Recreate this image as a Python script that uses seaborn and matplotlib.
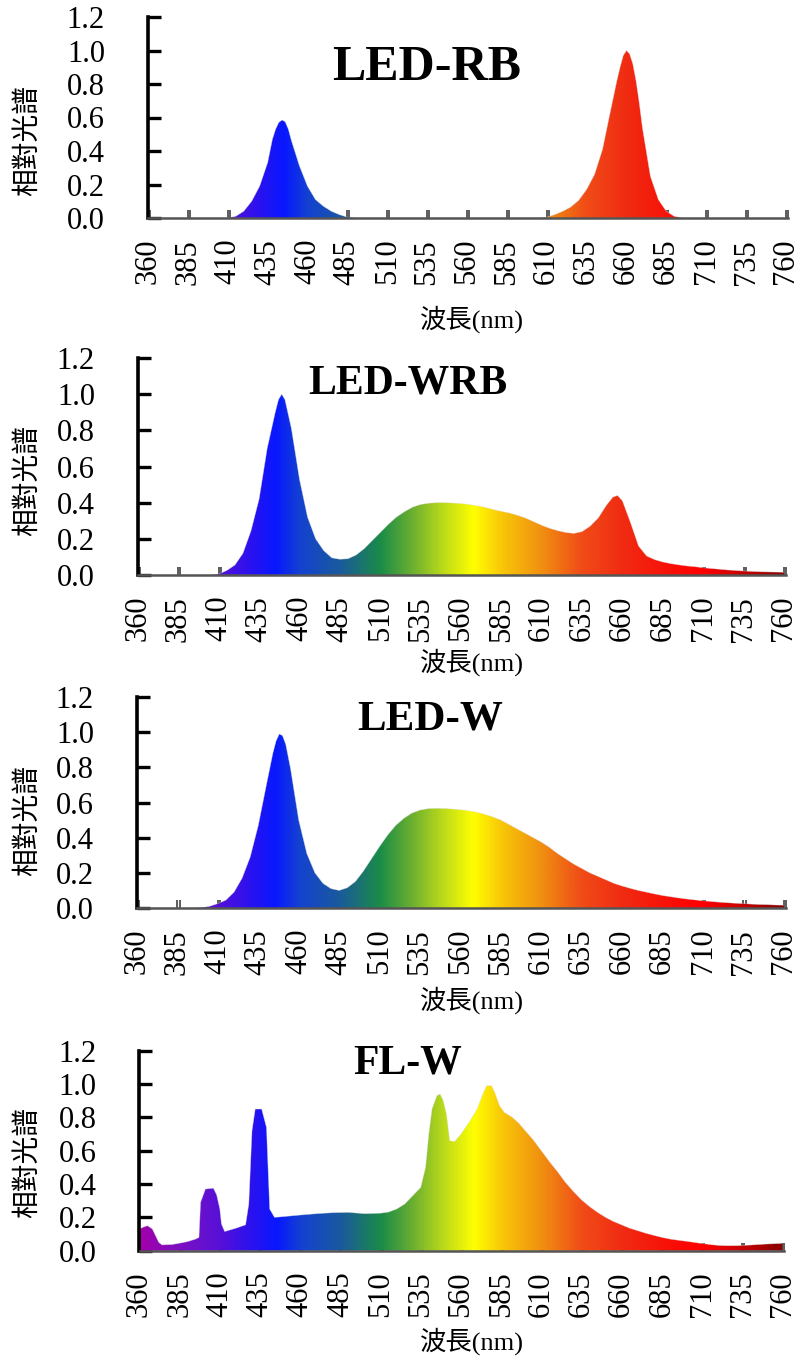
import numpy as np
import matplotlib
matplotlib.use("Agg")
import matplotlib.pyplot as plt
import seaborn as sns
import pandas as pd
from matplotlib.colors import LinearSegmentedColormap

# ---------------- data ----------------
xtick_vals = list(range(360, 761, 25))
ytick_vals = [0.0, 0.2, 0.4, 0.6, 0.8, 1.0, 1.2]
ytick_labels = ["0.0", "0.2", "0.4", "0.6", "0.8", "1.0", "1.2"]
panel_titles = ["LED-RB", "LED-WRB", "LED-W", "FL-W"]
ylabel_text = "相對光譜"
xlabel_text = "波長(nm)"

rb_wl = [360, 405, 410, 415, 420, 425, 430, 435, 438, 440, 442, 444, 446, 448, 450, 455, 460, 465, 470, 475, 480, 485, 490,
         605, 610, 615, 620, 625, 630, 635, 640, 645, 650, 654, 656, 658, 660, 662, 664, 666, 668, 670, 675, 680, 685, 690, 695, 760]
rb_val = [0, 0, 0.0, 0.01, 0.04, 0.10, 0.19, 0.33, 0.47, 0.53, 0.57, 0.585, 0.575, 0.53, 0.46, 0.31, 0.19, 0.11, 0.07, 0.04, 0.02, 0.005, 0,
          0, 0.005, 0.02, 0.04, 0.065, 0.105, 0.17, 0.26, 0.41, 0.64, 0.82, 0.90, 0.97, 1.0, 0.98, 0.92, 0.82, 0.69, 0.54, 0.25, 0.11, 0.04, 0.01, 0, 0]

wrb_wl = [360, 405, 410, 415, 420, 425, 430, 435, 440, 445, 447, 449, 451, 455, 460, 465, 470, 475, 480, 485, 490,
          495, 500, 505, 510, 515, 520, 525, 530, 535, 540, 545, 550, 555, 560, 565, 570, 575, 580, 585, 590,
          595, 600, 605, 610, 615, 620, 625, 630, 635, 640, 645, 650, 654, 657, 660, 665, 670, 675, 680, 685,
          690, 695, 700, 705, 710, 715, 720, 725, 730, 735, 740, 745, 750, 755, 760]
wrb_val = [0, 0, 0.005, 0.025, 0.055, 0.12, 0.245, 0.42, 0.70, 0.90, 0.97, 1.0, 0.97, 0.81, 0.53, 0.32, 0.20, 0.135, 0.095, 0.087, 0.09,
           0.11, 0.145, 0.19, 0.235, 0.28, 0.32, 0.35, 0.375, 0.39, 0.397, 0.40, 0.40, 0.398, 0.395, 0.39, 0.383, 0.374, 0.362, 0.352, 0.343,
           0.33, 0.315, 0.295, 0.275, 0.258, 0.245, 0.235, 0.23, 0.24, 0.27, 0.315, 0.385, 0.43, 0.44, 0.41, 0.29, 0.16, 0.105, 0.085, 0.072,
           0.063, 0.056, 0.05, 0.046, 0.04, 0.036, 0.032, 0.028, 0.025, 0.022, 0.02, 0.018, 0.017, 0.016, 0.015]

w_wl = [360, 395, 400, 405, 410, 415, 420, 425, 430, 435, 440, 444, 446, 448, 450, 452, 455, 460, 465, 470, 475, 480,
        485, 490, 495, 500, 505, 510, 515, 520, 525, 530, 535, 540, 545, 550, 555, 560, 565, 570, 575, 580,
        585, 590, 595, 600, 605, 610, 615, 620, 625, 630, 635, 640, 645, 650, 655, 660, 665, 670, 675, 680,
        685, 690, 695, 700, 705, 710, 715, 720, 725, 730, 735, 740, 745, 750, 755, 760]
w_val = [0, 0, 0.002, 0.01, 0.025, 0.045, 0.09, 0.17, 0.29, 0.47, 0.70, 0.88, 0.95, 0.99, 0.98, 0.93, 0.79, 0.50, 0.31, 0.20, 0.14, 0.11,
         0.10, 0.115, 0.15, 0.21, 0.28, 0.35, 0.415, 0.47, 0.51, 0.54, 0.557, 0.565, 0.567, 0.566, 0.563, 0.559, 0.553, 0.545, 0.533, 0.518,
         0.50, 0.475, 0.45, 0.425, 0.40, 0.375, 0.345, 0.31, 0.28, 0.25, 0.225, 0.20, 0.18, 0.16, 0.14, 0.125, 0.112, 0.10, 0.09, 0.08,
         0.071, 0.064, 0.057, 0.051, 0.046, 0.041, 0.037, 0.033, 0.03, 0.027, 0.025, 0.022, 0.02, 0.019, 0.017, 0.016]

fl_wl = [360, 362, 365, 368, 370, 372, 374, 380, 385, 390, 395, 397, 398, 401, 406, 408, 410, 411, 413, 420,
         426, 428, 430, 432, 436, 439, 441, 444, 450, 460, 470, 480, 490, 500, 510, 515, 520, 525, 530, 535,
         538, 540, 542, 545, 547, 549, 551, 553, 556, 560, 565, 570, 574, 576, 579, 581, 584, 587, 592, 596,
         600, 605, 610, 615, 620, 625, 630, 635, 640, 645, 650, 655, 660, 665, 670, 675, 680, 685, 690, 695,
         700, 705, 710, 715, 720, 725, 730, 735, 740, 745, 750, 755, 760]
fl_val = [0.13, 0.14, 0.15, 0.13, 0.09, 0.05, 0.035, 0.037, 0.045, 0.055, 0.07, 0.08, 0.29, 0.37, 0.375, 0.335, 0.25, 0.16, 0.115, 0.135,
          0.155, 0.28, 0.72, 0.85, 0.85, 0.74, 0.25, 0.20, 0.205, 0.214, 0.222, 0.228, 0.23, 0.222, 0.225, 0.232, 0.25, 0.28, 0.33, 0.38,
          0.50, 0.70, 0.85, 0.93, 0.94, 0.90, 0.82, 0.66, 0.655, 0.70, 0.77, 0.85, 0.95, 0.99, 0.99, 0.95, 0.87, 0.83, 0.80, 0.765,
          0.72, 0.665, 0.60, 0.535, 0.475, 0.41, 0.355, 0.305, 0.265, 0.23, 0.20, 0.175, 0.155, 0.135, 0.12, 0.105, 0.092, 0.08, 0.07, 0.063,
          0.057, 0.05, 0.043, 0.037, 0.032, 0.03, 0.03, 0.031, 0.034, 0.037, 0.04, 0.042, 0.044]

series = [(rb_wl, rb_val), (wrb_wl, wrb_val), (w_wl, w_val), (fl_wl, fl_val)]

# ---------------- style ----------------
sns.set_theme(style="white")
plt.rcParams['font.family'] = ['Liberation Serif', 'Noto Sans CJK TC']
cjk = ['Liberation Serif', 'Noto Sans CJK TC']

W, H = 804, 1359
fig = plt.figure(figsize=(W / 100, H / 100), dpi=100)

anchors = [(360, '#a000aa'), (385, '#7a10c4'), (410, '#5510d8'), (430, '#2812f0'), (445, '#0818ff'),
           (460, '#1442d0'), (485, '#1a5a9c'), (500, '#1a7868'), (510, '#1a8c48'), (530, '#6cb030'),
           (548, '#b8d81c'), (568, '#ffff00'), (585, '#f8c808'), (610, '#f09010'), (635, '#f04c18'),
           (660, '#f02c12'), (690, '#f81008'), (710, '#ff0000'), (735, '#c80000'), (760, '#880000')]
cmap = LinearSegmentedColormap.from_list('spec', [((w - 360) / 400, c) for w, c in anchors])

# axes boxes in pixels: left, right, top, bottom
boxes = [(148, 788, 17, 218), (138, 786, 358, 575), (137, 786, 697, 908), (139.5, 784.5, 1050.7, 1250.7)]
title_pos = [(427, 68, 36), (408, 383, 30), (430, 720, 31), (408, 1063, 30)]
ylab_y = [141, 480, 820, 1162]
xlab_y = [319, 662, 1000, 1341]

for i, ((wl, val), (l, r, t, b)) in enumerate(zip(series, boxes)):
    ax = fig.add_axes([l / W, 1 - b / H, (r - l) / W, (b - t) / H])
    df = pd.DataFrame({'wl': wl, 'v': val})
    poly = ax.fill_between(df['wl'], 0, df['v'], facecolor='none', edgecolor='none')
    grad = np.linspace(360, 760, 1200)[None, :]
    im = ax.imshow(grad, extent=[360, 760, 0, 1.2], aspect='auto', cmap=cmap,
                   vmin=360, vmax=760, origin='lower', zorder=1, interpolation='bilinear')
    im.set_clip_path(poly.get_paths()[0], transform=ax.transData)
    sns.lineplot(data=df, x='wl', y='v', ax=ax, color='#dddddd', lw=0.5, alpha=0.5, zorder=2)
    ax.set_xlabel('')
    ax.set_ylabel('')
    ax.set_xlim(360, 760)
    ax.set_ylim(0, 1.2)
    ax.set_xticks(xtick_vals)
    ax.set_xticklabels([str(v) for v in xtick_vals])
    ax.set_xticks([v + 1.3 for v in xtick_vals], minor=True)
    ax.set_yticks(ytick_vals)
    ax.set_yticklabels(ytick_labels)
    ax.tick_params(axis='y', direction='in', length=9.5, width=2.4, color='black', pad=31,
                   labelsize=22, labelcolor='black', left=True)
    ax.tick_params(axis='x', which='both', direction='in', length=6, width=1.1, color='#303030',
                   pad=15, labelsize=22, labelcolor='black', labelrotation=90, bottom=True)
    ax.tick_params(axis='x', which='minor', labelbottom=False)
    for s in ['top', 'right']:
        ax.spines[s].set_visible(False)
    ax.spines['left'].set_color('black')
    ax.spines['left'].set_linewidth(2.6)
    ax.spines['bottom'].set_color('#555555')
    ax.spines['bottom'].set_linewidth(1.8)
    ax.grid(False)

    tx, ty, ts = title_pos[i]
    fig.text(tx / W, 1 - ty / H, panel_titles[i], ha='center', va='center',
             fontsize=ts, fontweight='bold', family='Liberation Serif', color='black')
    fig.text(28 / W, 1 - ylab_y[i] / H, ylabel_text, rotation=90, ha='center', va='center',
             fontsize=20, family=cjk, color='black')
    fig.text(472 / W, 1 - xlab_y[i] / H, xlabel_text, ha='center', va='center',
             fontsize=19, family=cjk, color='black')

fig.savefig('out.png', dpi=100, facecolor='white')
